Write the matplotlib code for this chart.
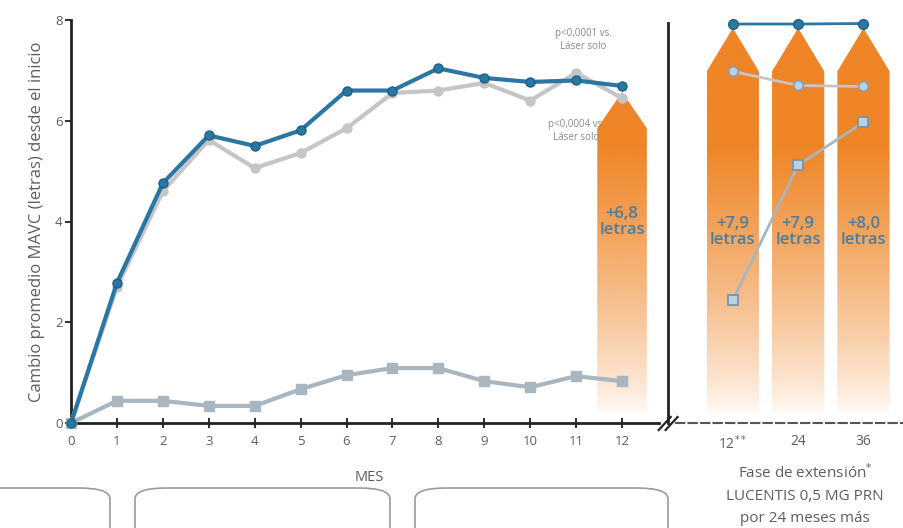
import numpy as np
import matplotlib.pyplot as plt
from matplotlib.patches import Polygon, FancyBboxPatch
from matplotlib.lines import Line2D

plt.rcParams['font.family'] = ['Open Sans', 'DejaVu Sans']

# ---- data ----
months = list(range(13))
ranib = [0, 2.78, 4.76, 5.71, 5.50, 5.81, 6.60, 6.60, 7.04, 6.85, 6.77, 6.80, 6.69]
ranib_laser = [0, 2.70, 4.60, 5.62, 5.06, 5.36, 5.85, 6.55, 6.60, 6.75, 6.40, 6.95, 6.45]
laser = [0, 0.44, 0.44, 0.34, 0.34, 0.67, 0.95, 1.09, 1.09, 0.83, 0.71, 0.93, 0.83]

ext_labels = ["12$^{**}$", "24", "36"]
ext_ranib = [7.92, 7.92, 7.93]
ext_ranib_laser = [6.98, 6.70, 6.68]
ext_laser = [2.44, 5.12, 5.97]
ext_gains = ["+7,9\nletras", "+7,9\nletras", "+8,0\nletras"]
gain_12 = "+6,8\nletras"

BLUE = '#2b77a3'
GREY_C = '#c5c5c8'
GREY_S = '#a9b6c0'
ORANGE = np.array([239, 133, 38]) / 255
TXT = '#5e5e5e'
GAIN_TXT = '#4e7d9c'


def gradient_arrow(ax, xc, half_w, tip, shoulder, bottom=0.0):
    """orange arrow that fades to white at the bottom"""
    verts = [(xc - half_w, bottom), (xc - half_w, shoulder), (xc, tip),
             (xc + half_w, shoulder), (xc + half_w, bottom)]
    poly = Polygon(verts, closed=True, facecolor='none', edgecolor='none',
                   transform=ax.transData)
    ax.add_patch(poly)
    n = 256
    y = np.linspace(tip, bottom, n)
    a = np.clip((y - 0.15) / (5.5 - 0.15), 0, 1) ** 0.75
    img = np.zeros((n, 2, 4))
    img[:, :, :3] = ORANGE
    img[:, :, 3] = a[:, None]
    im = ax.imshow(img, extent=[xc - half_w, xc + half_w, bottom, tip],
                   aspect='auto', zorder=1, interpolation='bilinear')
    im.set_clip_path(poly)


fig = plt.figure(figsize=(9.04, 5.28), dpi=100)
ax = fig.add_axes([71 / 904, 105 / 528, 597 / 904, 403 / 528])
ax2 = fig.add_axes([676 / 904, 105 / 528, 228 / 904, 403 / 528])

# ---- left panel ----
gradient_arrow(ax, 12.0, 0.54, 6.57, 5.85)
ax.plot(months, laser, color=GREY_S, lw=3, marker='s', ms=6.5,
        mfc=GREY_S, mec=GREY_S, zorder=3, clip_on=False)
ax.plot(months, ranib_laser, color=GREY_C, lw=3, marker='o', ms=6.5,
        mfc=GREY_C, mec=GREY_C, zorder=4, clip_on=False)
ax.plot(months, ranib, color=BLUE, lw=3, marker='o', ms=6.5,
        mfc=BLUE, mec='#1f6186', zorder=5, clip_on=False)

ax.text(12.0, 4.0, gain_12, ha='center', va='center', fontsize=12,
        color=GAIN_TXT, fontweight='semibold', linespacing=1.0, zorder=6)
ax.text(11.15, 7.6, "p<0,0001 vs.\nLáser solo", ha='center', va='center',
        fontsize=7, color='#8a8a8a', linespacing=1.2)
ax.text(11.0, 5.8, "p<0,0004 vs.\nLáser solo", ha='center', va='center',
        fontsize=7, color='#8a8a8a', linespacing=1.2, zorder=6)

ax.set_xlim(0, 13)
ax.set_ylim(0, 8)
ax.set_xticks(months)
ax.set_yticks([0, 2, 4, 6, 8])
ax.tick_params(axis='x', direction='inout', length=7, width=1.5, colors='#333333',
               labelcolor=TXT, labelsize=9.5, pad=5)
ax.tick_params(axis='y', direction='out', length=4, width=1.5, colors='#333333',
               labelcolor=TXT, labelsize=9.5, pad=2)
ax.spines['top'].set_visible(False)
for s in ['left', 'right', 'bottom']:
    ax.spines[s].set_linewidth(2)
    ax.spines[s].set_color('#222222')
ax.spines['right'].set_bounds(0, 7.95)
ax.spines['bottom'].set_bounds(0, 12.8)
ax.set_xlabel("MES", fontsize=10.5, color=TXT, labelpad=16)
ax.set_ylabel("Cambio promedio MAVC (letras) desde el inicio", fontsize=12,
              color=TXT, labelpad=7)

# axis break marks
for dx in (-0.05, 0.1):
    fig.add_artist(Line2D([(661 + dx * 46) / 904, (673 + dx * 46) / 904],
                          [(528 - 430) / 528, (528 - 417) / 528],
                          color='#222222', lw=1.6))

# ---- right panel (extension) ----
xs = [0, 1, 2]
for x in xs:
    gradient_arrow(ax2, x, 0.40, 7.84, 6.98)
ax2.plot(xs, ext_laser, color=GREY_S, lw=2, marker='s', ms=7,
         mfc='#b9d2e3', mec='#7e93a3', mew=1.3, zorder=3, clip_on=False)
ax2.plot(xs, ext_ranib_laser, color=GREY_C, lw=2, marker='o', ms=7,
         mfc='#b9d2e3', mec='#9a9a9a', mew=1.3, zorder=4, clip_on=False)
ax2.plot(xs, ext_ranib, color=BLUE, lw=2, marker='o', ms=7,
         mfc=BLUE, mec='#1f6186', zorder=5, clip_on=False)
for x, g in zip(xs, ext_gains):
    ax2.text(x, 3.8, g, ha='center', va='center', fontsize=12,
             color=GAIN_TXT, fontweight='semibold', linespacing=1.0, zorder=6)

ax2.set_xlim(-0.87, 2.62)
ax2.set_ylim(0, 8)
ax2.set_xticks(xs)
ax2.set_xticklabels(ext_labels)
ax2.set_yticks([])
ax2.tick_params(axis='x', length=0, labelcolor=TXT, labelsize=10, pad=8)
for s in ['left', 'right', 'top']:
    ax2.spines[s].set_visible(False)
ax2.spines['bottom'].set_linestyle((0, (4, 2)))
ax2.spines['bottom'].set_color('#555555')
ax2.spines['bottom'].set_linewidth(1.5)

fig.text(805 / 904, 1 - 473 / 528, "Fase de extensión$^{*}$", ha='center',
         va='center', fontsize=11, color=TXT)
fig.text(805 / 904, 1 - 497 / 528, "LUCENTIS 0,5 MG PRN", ha='center',
         va='center', fontsize=11, color=TXT)
fig.text(805 / 904, 1 - 519 / 528, "por 24 meses más", ha='center',
         va='center', fontsize=11, color=TXT)

# cut-off rounded boxes along the bottom edge
for x0, x1 in [(-60, 110), (135, 390), (415, 668)]:
    box = FancyBboxPatch((x0 / 904, (528 - 560) / 528), (x1 - x0) / 904, 72 / 528,
                         boxstyle="round,pad=0,rounding_size=0.035",
                         transform=fig.transFigure, facecolor='none',
                         edgecolor='#9a9a9a', lw=1.2, mutation_aspect=528 / 904)
    fig.add_artist(box)

fig.savefig('out.png', dpi=100)
